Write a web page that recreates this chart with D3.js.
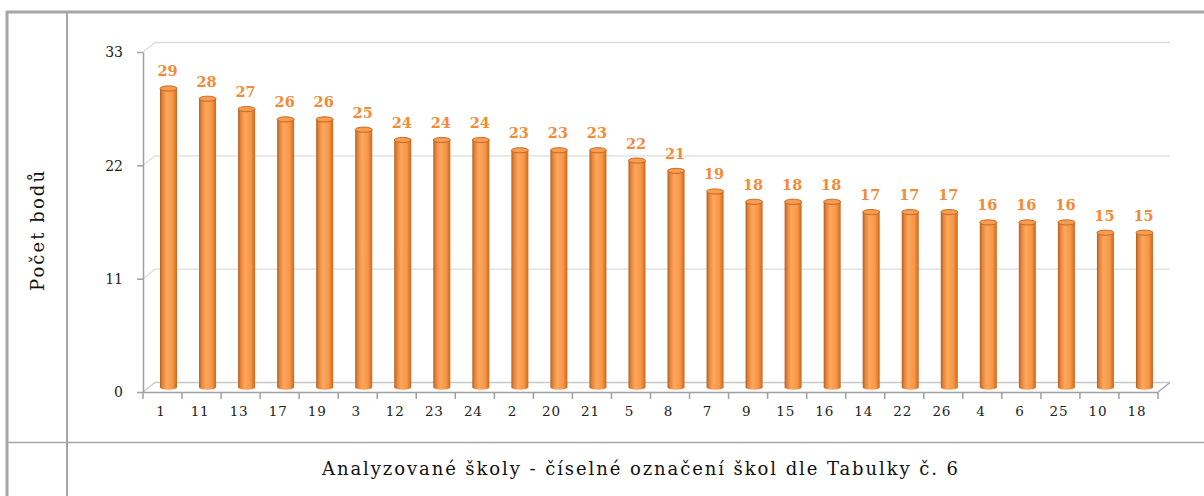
<!DOCTYPE html>
<html>
<head>
<meta charset="utf-8">
<script src="https://cdn.jsdelivr.net/npm/d3@7"></script>
<style>
  html, body { margin: 0; padding: 0; background: #fff; }
  svg { display: block; }
  .tick text { font-family: "DejaVu Serif", serif; fill: #222; }
</style>
</head>
<body>
<div id="graf"></div>
<script>
// školy a body
var skoly = ["1", "11", "13", "17", "19", "3", "12", "23", "24", "2", "20", "21", "5",
             "8", "7", "9", "15", "16", "14", "22", "26", "4", "6", "25", "10", "18"];
var body = [29, 28, 27, 26, 26, 25, 24, 24, 24, 23, 23, 23, 22,
            21, 19, 18, 18, 18, 17, 17, 17, 16, 16, 16, 15, 15];
var osaY = [0, 11, 22, 33];

var w = 1204, h = 496;
var hloubka = [12, -9.5]; // posun zadni steny (3D)

var svg = d3.select("#graf").append("svg")
    .attr("width", w)
    .attr("height", h);

var defs = svg.append("defs");
var grad = defs.append("linearGradient")
    .attr("id", "valec")
    .attr("x1", "0%").attr("x2", "100%").attr("y1", "0%").attr("y2", "0%");
grad.append("stop").attr("offset", "0%").attr("stop-color", "#b35c1c");
grad.append("stop").attr("offset", "15%").attr("stop-color", "#e6843a");
grad.append("stop").attr("offset", "40%").attr("stop-color", "#fca85e");
grad.append("stop").attr("offset", "75%").attr("stop-color", "#f79646");
grad.append("stop").attr("offset", "100%").attr("stop-color", "#c8681f");

/* tabulka kolem grafu */
var tab = svg.append("g").attr("class", "tabulka").attr("stroke", "#a6a6a6");
tab.append("line").attr("x1", 6).attr("x2", w).attr("y1", 12).attr("y2", 12).attr("stroke-width", 3);
tab.append("line").attr("x1", 7).attr("x2", 7).attr("y1", 11).attr("y2", h).attr("stroke-width", 3);
tab.append("line").attr("x1", 67).attr("x2", 67).attr("y1", 12).attr("y2", h).attr("stroke-width", 2);
tab.append("line").attr("x1", 7).attr("x2", w).attr("y1", 442.5).attr("y2", 442.5).attr("stroke-width", 1.5);

var x = d3.scaleBand()
    .domain(skoly)
    .range([143, 1158]);

var y = d3.scaleLinear()
    .domain([0, 33])
    .range([392, 52]);

var dx = hloubka[0], dy = hloubka[1];
var x0 = x.range()[0], x1 = x.range()[1];

/* zadni stena a podlaha */
var mrizka = svg.append("g").attr("class", "mrizka").attr("fill", "none");
osaY.forEach(function(v) {
    mrizka.append("line")
        .attr("x1", x0 + dx).attr("x2", x1 + dx)
        .attr("y1", y(v) + dy).attr("y2", y(v) + dy)
        .attr("stroke", v == 0 ? "#c8c8c8" : "#dcdcdc")
        .attr("stroke-width", 1.3);
    mrizka.append("line")
        .attr("x1", x0).attr("x2", x0 + dx)
        .attr("y1", y(v)).attr("y2", y(v) + dy)
        .attr("stroke", v == 0 ? "#c8c8c8" : "#dcdcdc")
        .attr("stroke-width", 1.3);
});
// pravy okraj podlahy
mrizka.append("line")
    .attr("x1", x1).attr("x2", x1 + dx)
    .attr("y1", y(0)).attr("y2", y(0) + dy)
    .attr("stroke", "#a6a6a6").attr("stroke-width", 1.3);

/* osy */
var gy = svg.append("g")
    .attr("transform", "translate(" + x0 + ",0)")
    .call(d3.axisLeft(y).tickValues(osaY).tickSize(6).tickPadding(14).tickSizeOuter(0));
gy.select(".domain").attr("stroke", "#a0a0a0").attr("stroke-width", 1.5);
gy.selectAll(".tick line").attr("stroke", "#a0a0a0").attr("stroke-width", 1.5);
gy.selectAll(".tick text").attr("font-size", 14).attr("dy", "0.35em");

var gx = svg.append("g")
    .attr("transform", "translate(0," + y(0) + ")")
    .call(d3.axisBottom(x).tickSize(0).tickPadding(14).tickSizeOuter(0));
gx.select(".domain").attr("stroke", "#a0a0a0").attr("stroke-width", 1.5);
gx.selectAll(".tick text").attr("font-size", 13.5).attr("letter-spacing", 0.8)
    .attr("dx", -1.5);

// carky mezi kategoriemi
gx.selectAll("line.del")
    .data(d3.range(skoly.length + 1))
    .enter().append("line")
    .attr("class", "del")
    .attr("x1", function(i) { return x0 + i * x.step(); })
    .attr("x2", function(i) { return x0 + i * x.step(); })
    .attr("y1", 0).attr("y2", 7)
    .attr("stroke", "#a0a0a0").attr("stroke-width", 1.5);

/* sloupce - valce */
var sirka = 17, ry = 2.6;
var sloupce = svg.append("g").attr("class", "sloupce")
    .selectAll("g")
    .data(body)
    .enter().append("g")
    .attr("transform", function(d, i) {
        return "translate(" + (x(skoly[i]) + x.bandwidth() / 2 + dx / 2) + "," + (dy / 2) + ")";
    });

sloupce.append("ellipse")
    .attr("cx", 0).attr("cy", y(0))
    .attr("rx", sirka / 2).attr("ry", ry)
    .attr("fill", "url(#valec)");

sloupce.append("rect")
    .attr("x", -sirka / 2)
    .attr("width", sirka)
    .attr("y", function(d) { return y(d); })
    .attr("height", function(d) { return y(0) - y(d); })
    .attr("fill", "url(#valec)");

sloupce.append("ellipse")
    .attr("cx", 0)
    .attr("cy", function(d) { return y(d); })
    .attr("rx", sirka / 2).attr("ry", ry)
    .attr("fill", "#f79c50")
    .attr("stroke", "#c0621c")
    .attr("stroke-width", 0.9);

sloupce.append("text")
    .attr("x", -1)
    .attr("y", function(d) { return y(d) - 12; })
    .attr("text-anchor", "middle")
    .attr("font-family", "DejaVu Serif, serif")
    .attr("font-weight", "bold")
    .attr("font-size", 14.5)
    .attr("fill", "#f58a36")
    .text(function(d) { return d; });

/* popisky os */
svg.append("text")
    .attr("transform", "translate(44,231) rotate(-90)")
    .attr("text-anchor", "middle")
    .attr("font-family", "DejaVu Serif, serif")
    .attr("font-size", 18)
    .attr("textLength", 120)
    .attr("lengthAdjust", "spacing")
    .attr("fill", "#111")
    .text("Počet bodů");

svg.append("text")
    .attr("x", 640)
    .attr("y", 475)
    .attr("text-anchor", "middle")
    .attr("font-family", "DejaVu Serif, serif")
    .attr("font-size", 18)
    .attr("textLength", 636)
    .attr("lengthAdjust", "spacing")
    .attr("fill", "#111")
    .text("Analyzované školy - číselné označení škol dle Tabulky č. 6");
</script>
</body>
</html>
